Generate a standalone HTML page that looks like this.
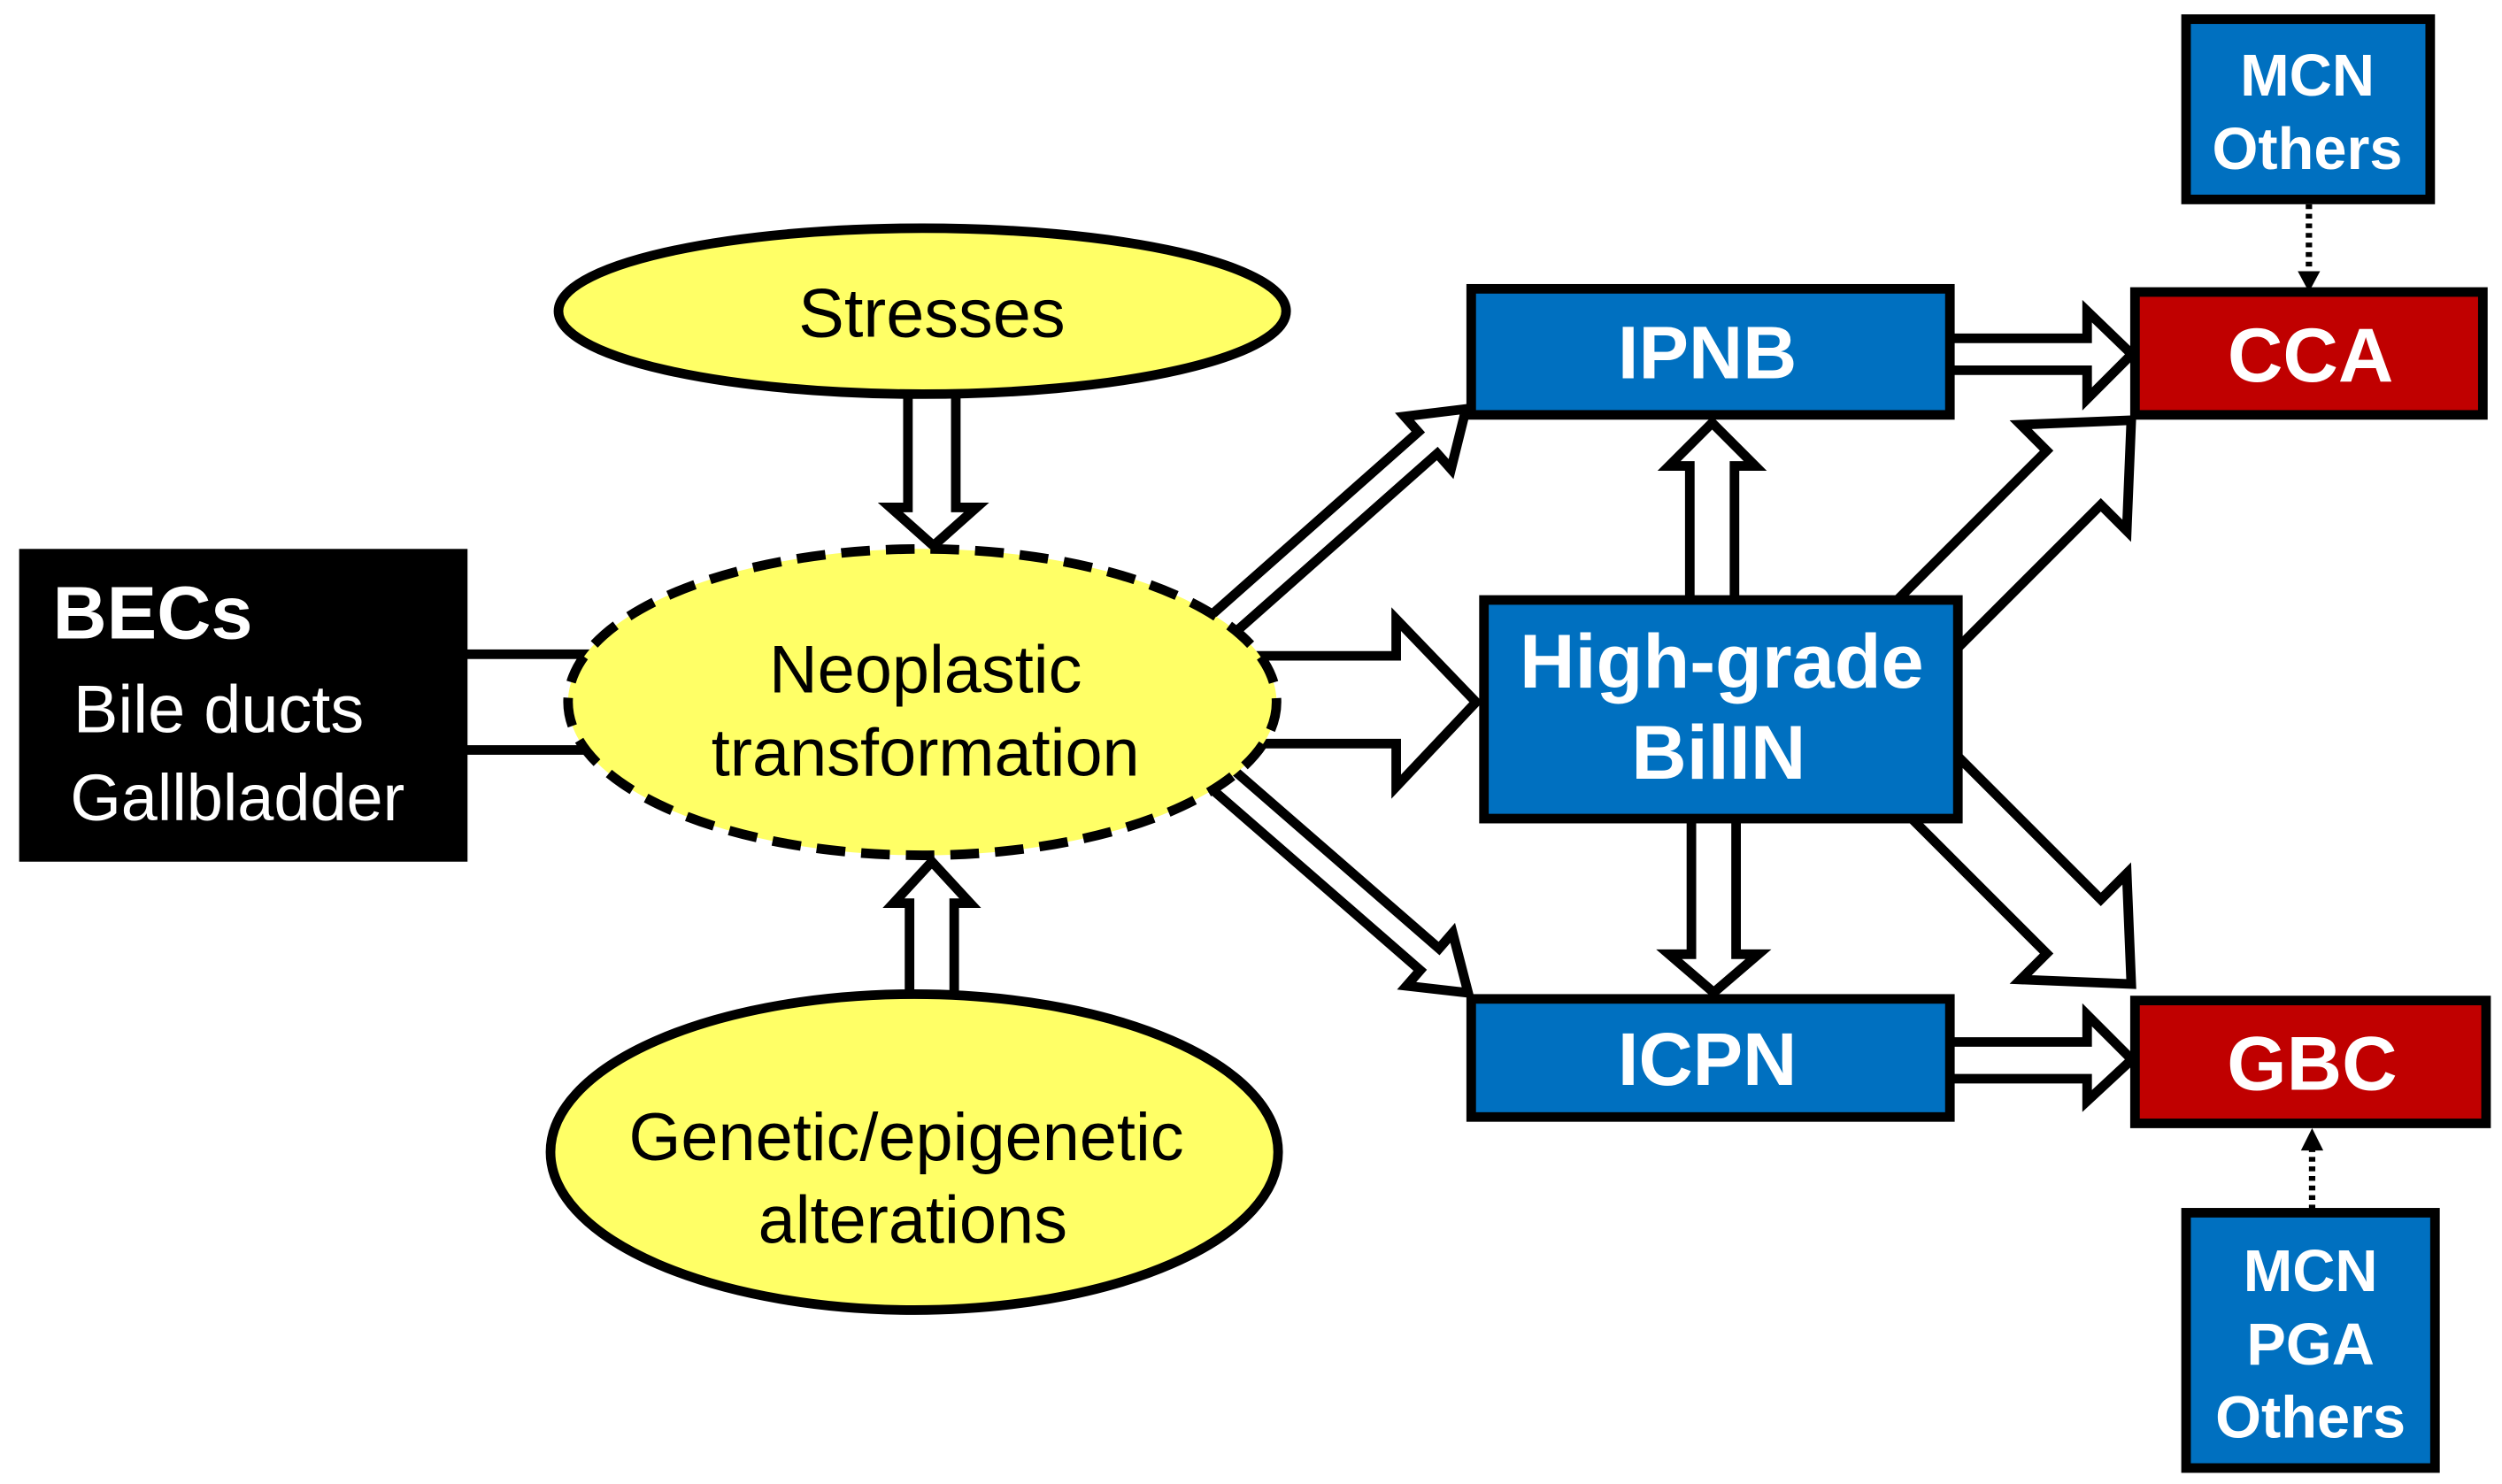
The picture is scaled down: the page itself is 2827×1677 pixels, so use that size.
<!DOCTYPE html>
<html><head><meta charset="utf-8"><style>
html,body{margin:0;padding:0;background:#fff;}
svg{display:block;}
text{font-family:"Liberation Sans",Arial,sans-serif;}
.b{font-weight:bold;fill:#fff;}
.y{fill:#000;}
</style></head><body>
<svg width="2827" height="1677" viewBox="0 0 1568 930" preserveAspectRatio="none" xmlns="http://www.w3.org/2000/svg">
<g fill="#fff" stroke="#000" stroke-width="6" stroke-linejoin="miter">
<rect x="285" y="410" width="90" height="60"/>
<polygon points="760,411 875,411 875,388 925,440 875,493 875,466 760,466"/>
<polygon points="569,245 599,245 599,318 612,318 585,342 558,318 569,318"/>
<polygon points="570,628 598,628 598,566 608,566 584,540 560,566 570,566"/>
<g transform="translate(745,410) rotate(-41.5)"><polygon points="0,-9 200,-9 200,-22 232,0 200,22 200,9 0,9"/></g>
<g transform="translate(745,470) rotate(41)"><polygon points="0,-9 200,-9 200,-22 232,0 200,22 200,9 0,9"/></g>
<g transform="translate(1190,409) rotate(-45)"><polygon points="0,-24 155,-24 155,-47 206,0 155,47 155,24 0,24"/></g>
<g transform="translate(1190,471) rotate(45)"><polygon points="0,-24 155,-24 155,-47 206,0 155,47 155,24 0,24"/></g>
<polygon points="1215,212 1308,212 1308,195 1336,222 1308,250 1308,232 1215,232"/>
<polygon points="1215,653 1308,653 1308,636 1336,664 1308,690 1308,676 1215,676"/>
<polygon points="1059,385 1087,385 1087,292 1100,292 1073,265 1046,292 1059,292"/>
<polygon points="1060,505 1088,505 1088,598 1102,598 1074,622 1046,598 1060,598"/>
</g>
<line x1="1447" y1="128" x2="1447" y2="172" stroke="#000" stroke-width="4" stroke-dasharray="3,3"/>
<polygon points="1440,170 1454,170 1447,183" fill="#000"/>
<line x1="1449" y1="758" x2="1449" y2="718" stroke="#000" stroke-width="4" stroke-dasharray="3,3"/>
<polygon points="1442,721 1456,721 1449,707" fill="#000"/>

<rect x="12" y="344" width="281" height="196" fill="#000"/>
<text x="33" y="400" class="b" font-size="47">BECs</text>
<text x="46" y="459" font-size="42" fill="#fff">Bile ducts</text>
<text x="44" y="514" font-size="41" fill="#fff">Gallbladder</text>

<ellipse cx="578" cy="195" rx="228" ry="52" fill="#ffff66" stroke="#000" stroke-width="6"/>
<text x="584" y="211" text-anchor="middle" font-size="43" class="y">Stresses</text>
<ellipse cx="578" cy="440" rx="222" ry="96" fill="#ffff66" stroke="#000" stroke-width="6" stroke-dasharray="18,10"/>
<text x="580" y="434" text-anchor="middle" font-size="42" class="y">Neoplastic</text>
<text x="580" y="486" text-anchor="middle" font-size="42" class="y">transformation</text>
<ellipse cx="573" cy="722" rx="228" ry="99" fill="#ffff66" stroke="#000" stroke-width="6"/>
<text x="568" y="727" text-anchor="middle" font-size="42" class="y">Genetic/epigenetic</text>
<text x="572" y="779" text-anchor="middle" font-size="42" class="y">alterations</text>

<g stroke="#000" stroke-width="6">
<rect x="922" y="181" width="300" height="79" fill="#0070c0"/>
<rect x="930" y="376" width="297" height="137" fill="#0070c0"/>
<rect x="922" y="626" width="300" height="74" fill="#0070c0"/>
<rect x="1338" y="183" width="218" height="77" fill="#c00000"/>
<rect x="1338" y="627" width="220" height="77" fill="#c00000"/>
<rect x="1370" y="12" width="153" height="113" fill="#0070c0"/>
<rect x="1370" y="760" width="156" height="160" fill="#0070c0"/>
</g>
<text x="1070" y="237" text-anchor="middle" class="b" font-size="47">IPNB</text>
<text x="1079" y="431" text-anchor="middle" class="b" font-size="48">High-grade</text>
<text x="1077" y="488" text-anchor="middle" class="b" font-size="48">BilIN</text>
<text x="1070" y="680" text-anchor="middle" class="b" font-size="47">ICPN</text>
<text x="1448" y="239" text-anchor="middle" class="b" font-size="48">CCA</text>
<text x="1449" y="683" text-anchor="middle" class="b" font-size="48">GBC</text>
<text x="1446" y="60" text-anchor="middle" class="b" font-size="37">MCN</text>
<text x="1446" y="106" text-anchor="middle" class="b" font-size="37">Others</text>
<text x="1448" y="809" text-anchor="middle" class="b" font-size="37">MCN</text>
<text x="1448" y="855" text-anchor="middle" class="b" font-size="37">PGA</text>
<text x="1448" y="901" text-anchor="middle" class="b" font-size="37">Others</text>
</svg>
</body></html>
